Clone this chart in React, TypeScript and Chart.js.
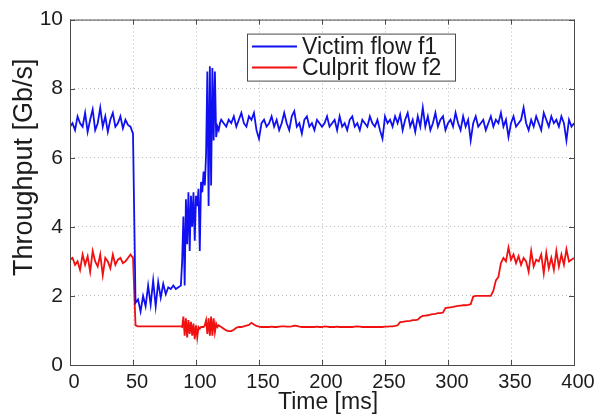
import React, { useEffect, useRef } from "react";
import { Chart, registerables } from "chart.js";

Chart.register(...registerables);

// Sample times [ms]: 2 ms steps, with 1 ms steps through the unstable 89-120 ms stretch
const span = (from: number, to: number, step: number): number[] => {
  const out: number[] = [];
  for (let t = from; t <= to; t += step) out.push(t);
  return out;
};
const sampleTimes: number[] = [...span(0, 88, 2), ...span(89, 120, 1), ...span(122, 400, 2)];

// Victim flow f1 throughput [Gb/s]
const victimStart = [6.9, 7.0, 6.8, 7.2, 7.0, 6.9, 7.3, 6.75, 7.1, 7.4, 6.8, 7.0, 7.45, 6.9, 7.2, 6.75, 7.1, 7.3, 6.9, 7.0, 7.2, 6.85, 7.1, 6.95, 6.9];
const victimDrop = [6.7, 1.8, 1.9, 1.55, 2.0, 1.7, 2.3, 1.75, 2.45, 1.7, 2.4, 1.95, 2.35, 2.05, 2.25, 2.2, 2.3, 2.2, 2.25, 2.3];
const victimUnstable = [3.0, 4.3, 2.3, 4.8, 3.5, 5.0, 3.3, 4.9, 4.0, 5.0, 3.6, 4.9, 4.6, 5.1, 3.3, 5.3, 5.0, 5.6, 5.2, 6.1, 8.5, 4.6, 8.65, 5.2, 8.6, 6.5, 8.5, 6.6, 6.9, 6.8, 7.0, 7.1];
const victimRecovered = [
  7.0, 6.9, 7.1, 7.0, 7.2, 6.9, 7.1, 7.3, 7.0, 6.9, 7.2, 7.1, 7.3, 6.8, 6.55, 7.0, 7.1, 6.9, 7.0, 7.2,
  6.9, 7.1, 6.8, 7.0, 7.3, 7.0, 6.8, 7.2, 7.35, 6.9, 7.0, 6.7, 7.1, 7.2, 6.9, 7.0, 6.8, 7.1, 7.0, 6.9,
  7.0, 7.2, 6.9, 7.0, 7.1, 6.8, 7.2, 6.9, 7.0, 6.8, 7.1, 7.2, 6.9, 7.0, 6.8, 7.1, 7.0, 6.9, 7.2, 7.0,
  6.9, 7.1, 6.8, 6.55, 7.2, 7.0, 7.1, 6.9, 7.2, 7.0, 7.25, 6.8, 7.1, 7.3, 6.9, 7.1, 6.75, 7.2, 6.9, 7.45,
  6.9, 7.2, 6.8, 7.0, 7.3, 6.9, 7.1, 7.2, 6.8, 7.0, 7.1, 6.9, 7.3, 7.0, 6.8, 7.2, 6.9, 7.1, 6.5, 7.0,
  7.2, 6.9, 7.0, 7.1, 6.8, 7.0, 7.2, 6.9, 7.1, 7.0, 7.3, 6.9, 7.1, 6.6, 7.0, 7.2, 6.9, 7.0, 7.1, 7.45,
  7.0, 6.8, 7.1, 6.9, 7.2, 7.0, 6.8, 7.3, 7.1, 6.9, 7.2, 7.0, 7.1, 6.9, 7.2, 7.0, 6.5, 7.1, 6.9, 7.0,
];

// Culprit flow f2 throughput [Gb/s]
const culpritStart = [3.05, 3.1, 2.9, 3.0, 2.75, 3.2, 2.9, 3.15, 2.7, 3.3, 3.0, 2.85, 3.2, 2.6, 3.1, 3.0, 2.8, 3.2, 2.9, 3.05, 3.1, 2.95, 3.0, 3.1, 3.2];
const culpritDrop = [3.1, 1.15, 1.12, 1.12, 1.12, 1.12, 1.12, 1.12, 1.12, 1.12, 1.12, 1.12, 1.12, 1.12, 1.12, 1.12, 1.12, 1.12, 1.12, 1.12];
const culpritUnstable = [1.1, 1.4, 0.85, 1.35, 0.8, 1.3, 0.9, 1.25, 0.85, 1.2, 0.75, 1.15, 0.8, 1.1, 1.05, 1.1, 1.1, 1.1, 1.15, 1.3, 0.9, 1.35, 0.85, 1.4, 0.85, 1.35, 0.95, 1.2, 1.1, 1.15, 1.12, 1.1];
const culpritRecovered = [
  1.05, 1.0, 0.98, 0.98, 1.02, 1.08, 1.1, 1.1, 1.12, 1.14, 1.16, 1.22, 1.17, 1.13, 1.11, 1.1, 1.1, 1.1, 1.1, 1.11,
  1.1, 1.1, 1.11, 1.12, 1.12, 1.11, 1.11, 1.12, 1.14, 1.13, 1.11, 1.1, 1.1, 1.1, 1.1, 1.1, 1.1, 1.11, 1.1, 1.1,
  1.12, 1.11, 1.1, 1.1, 1.1, 1.11, 1.1, 1.1, 1.1, 1.1, 1.1, 1.1, 1.11, 1.12, 1.11, 1.1, 1.1, 1.1, 1.1, 1.1,
  1.1, 1.1, 1.1, 1.1, 1.11, 1.11, 1.12, 1.12, 1.13, 1.15, 1.24, 1.25, 1.26, 1.27, 1.28, 1.3, 1.3, 1.31, 1.38, 1.42,
  1.43, 1.44, 1.46, 1.47, 1.48, 1.5, 1.5, 1.52, 1.65, 1.66, 1.67, 1.68, 1.7, 1.71, 1.72, 1.73, 1.73, 1.74, 1.76, 1.98,
  2.0, 2.0, 2.0, 2.0, 2.0, 2.0, 2.0, 2.15, 2.45, 2.55, 2.95, 3.1, 3.0, 3.4, 3.05, 3.2, 2.95, 3.15, 2.9, 3.1,
  3.0, 2.7, 3.3, 2.85, 3.05, 3.0, 3.2, 2.65, 3.25, 2.8, 3.1, 2.75, 3.3, 2.85, 3.2, 2.9, 3.35, 3.0, 3.05, 3.1,
];

const victimRate = [...victimStart, ...victimDrop, ...victimUnstable, ...victimRecovered];
const culpritRate = [...culpritStart, ...culpritDrop, ...culpritUnstable, ...culpritRecovered];

const seriesLabels = ["Victim flow f1", "Culprit flow f2"];
const seriesColors = ["#1010f0", "#f01010"];

const xTicks = [0, 50, 100, 150, 200, 250, 300, 350, 400];
const yTicks = [0, 2, 4, 6, 8, 10];
const xTitle = "Time [ms]";
const yTitle = "Throughput [Gb/s]";

const FONT = "'Liberation Sans', Arial, Helvetica, sans-serif";
const TEXT = "#1c1c1c";
const FRAME = "#4a4a4a";

// Box frame with inward tick marks on all four sides
const framePlugin = {
  id: "frame",
  afterDatasetsDraw(chart: any) {
    const { ctx, chartArea: a, scales } = chart;
    ctx.save();
    ctx.strokeStyle = FRAME;
    ctx.lineWidth = 1;
    ctx.strokeRect(a.left + 0.5, a.top + 0.5, a.right - a.left, a.bottom - a.top);
    const len = 5;
    ctx.beginPath();
    for (const v of xTicks) {
      const x = Math.round(scales.x.getPixelForValue(v)) + 0.5;
      ctx.moveTo(x, a.bottom);
      ctx.lineTo(x, a.bottom - len);
      ctx.moveTo(x, a.top);
      ctx.lineTo(x, a.top + len);
    }
    for (const v of yTicks) {
      const y = Math.round(scales.y.getPixelForValue(v)) + 0.5;
      ctx.moveTo(a.left, y);
      ctx.lineTo(a.left + len, y);
      ctx.moveTo(a.right, y);
      ctx.lineTo(a.right - len, y);
    }
    ctx.stroke();
    ctx.restore();
  },
};

// Axis titles, placed relative to the plot area
const axisTitlePlugin = {
  id: "axisTitles",
  afterDraw(chart: any) {
    const { ctx, chartArea: a } = chart;
    ctx.save();
    ctx.fillStyle = TEXT;
    ctx.textAlign = "center";
    ctx.textBaseline = "middle";
    ctx.font = `23px ${FONT}`;
    ctx.fillText(xTitle, (a.left + a.right) / 2 + 6, a.bottom + 38);
    ctx.translate(a.left - 45, (a.top + a.bottom) / 2 - 25);
    ctx.rotate(-Math.PI / 2);
    ctx.font = `27px ${FONT}`;
    ctx.fillText(yTitle, 0, 0);
    ctx.restore();
  },
};

// Boxed legend inside the plot area, upper middle-right
const legendBoxPlugin = {
  id: "legendBox",
  afterDraw(chart: any) {
    const { ctx, chartArea: a } = chart;
    const boxW = 208;
    const boxH = 47;
    const x0 = a.right - 119 - boxW;
    const y0 = a.top + 14;
    ctx.save();
    ctx.fillStyle = "#ffffff";
    ctx.fillRect(x0, y0, boxW, boxH);
    ctx.strokeStyle = FRAME;
    ctx.lineWidth = 1;
    ctx.strokeRect(x0 + 0.5, y0 + 0.5, boxW, boxH);
    ctx.font = `23px ${FONT}`;
    ctx.textBaseline = "middle";
    ctx.fillStyle = TEXT;
    chart.data.datasets.forEach((ds: any, i: number) => {
      const y = y0 + 13 + i * 21;
      ctx.strokeStyle = ds.borderColor;
      ctx.lineWidth = 2;
      ctx.beginPath();
      ctx.moveTo(x0 + 5, y);
      ctx.lineTo(x0 + 50, y);
      ctx.stroke();
      ctx.fillText(ds.label, x0 + 55, y + 1);
    });
    ctx.restore();
  },
};

export default function App() {
  const canvasRef = useRef<HTMLCanvasElement | null>(null);

  useEffect(() => {
    const canvas = canvasRef.current;
    if (!canvas) return;
    const chart = new Chart(canvas, {
      type: "line",
      data: {
        datasets: [
          {
            label: seriesLabels[0],
            data: sampleTimes.map((t, i) => ({ x: t, y: victimRate[i] })),
            borderColor: seriesColors[0],
            borderWidth: 1.8,
            pointRadius: 0,
            tension: 0,
          },
          {
            label: seriesLabels[1],
            data: sampleTimes.map((t, i) => ({ x: t, y: culpritRate[i] })),
            borderColor: seriesColors[1],
            borderWidth: 1.8,
            pointRadius: 0,
            tension: 0,
          },
        ],
      },
      options: {
        responsive: false,
        animation: false,
        devicePixelRatio: 1,
        layout: { padding: { top: 16, right: 27, left: 0, bottom: 0 } },
        plugins: { legend: { display: false }, tooltip: { enabled: false } },
        scales: {
          x: {
            type: "linear",
            min: 0,
            max: 400,
            afterBuildTicks: (scale: any) => {
              scale.ticks = xTicks.map((v) => ({ value: v }));
            },
            afterFit: (scale: any) => {
              scale.height = 51;
            },
            ticks: {
              font: { family: FONT, size: 20 },
              color: TEXT,
              padding: 5,
              labelOffset: 4,
              maxRotation: 0,
            },
            grid: { color: "#b8b8b8", lineWidth: 1, drawTicks: false },
            border: { display: false, dash: [1, 3] },
          },
          y: {
            type: "linear",
            min: 0,
            max: 10,
            afterBuildTicks: (scale: any) => {
              scale.ticks = yTicks.map((v) => ({ value: v }));
            },
            afterFit: (scale: any) => {
              scale.width = 70;
            },
            ticks: {
              font: { family: FONT, size: 21 },
              color: TEXT,
              padding: 7,
            },
            grid: { color: "#b8b8b8", lineWidth: 1, drawTicks: false },
            border: { display: false, dash: [1, 3] },
          },
        },
      },
      plugins: [framePlugin, axisTitlePlugin, legendBoxPlugin],
    });
    return () => chart.destroy();
  }, []);

  return (
    <div style={{ position: "fixed", left: 0, top: 0, width: 601, height: 416, background: "#ffffff" }}>
      <canvas ref={canvasRef} width={601} height={416} style={{ display: "block" }} />
    </div>
  );
}
